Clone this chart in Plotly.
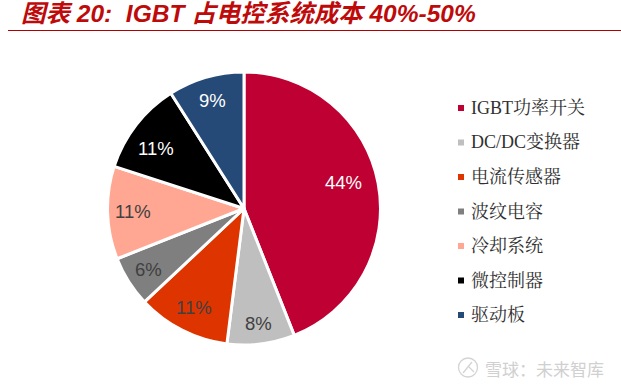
import math
import plotly.graph_objects as go

title = "图表 20:  IGBT 占电控系统成本 40%-50%"
labels = ["IGBT功率开关", "DC/DC变换器", "电流传感器", "波纹电容", "冷却系统", "微控制器", "驱动板"]
values = [44, 8, 11, 6, 11, 11, 9]
colors = ["#BE0032", "#BFBFBF", "#DE3500", "#7F7F7F", "#FFA793", "#000000", "#264A78"]
text_colors = ["#FFFFFF", "#404040", "#404040", "#404040", "#404040", "#FFFFFF", "#FFFFFF"]
label_radius = [0.75, 0.85, 0.81, 0.83, 0.815, 0.78, 0.825]
label_turn = [-3.7, 0, 0, 0, 0, -3.3, 0]
watermark = "雪球：未来智库"

W, H = 621, 385
cx, cy, r = 244, 208.5, 136.5

fig = go.Figure(go.Pie(
    labels=labels, values=values, sort=False, direction="clockwise", rotation=0,
    marker=dict(colors=colors, line=dict(color="white", width=3)),
    textinfo="none",
    hoverinfo="label+percent", showlegend=False,
    domain=dict(x=[(cx - r) / W, (cx + r) / W], y=[1 - (cy + r) / H, 1 - (cy - r) / H]),
))

px = lambda x: x / W
py = lambda y: 1 - y / H

shapes = [
    dict(type="line", xref="paper", yref="paper", x0=px(8), x1=1, y0=py(30.5), y1=py(30.5),
         line=dict(color="#B00000", width=1.2)),
    dict(type="circle", xref="paper", yref="paper", x0=px(458.5), x1=px(477.5), y0=py(377), y1=py(358),
         line=dict(color="#D4D4D4", width=1.3)),
    dict(type="line", xref="paper", yref="paper", x0=px(463), x1=px(472), y0=py(373), y1=py(362),
         line=dict(color="#D4D4D4", width=1.3)),
    dict(type="line", xref="paper", yref="paper", x0=px(468), x1=px(474), y0=py(366), y1=py(372),
         line=dict(color="#D4D4D4", width=1.3)),
]
annotations = [
    dict(text=f"<b><i>{title}</i></b>", x=px(19), y=py(13), xref="paper", yref="paper", xanchor="left",
         yanchor="middle", showarrow=False,
         font=dict(family="Liberation Sans, Noto Sans CJK SC", size=24.5, color="#BE0A0A")),
    dict(text=watermark, x=px(483), y=py(368), xref="paper", yref="paper", xanchor="left",
         yanchor="middle", showarrow=False,
         font=dict(family="Noto Sans CJK SC", size=17, color="#D0D0D0")),
]

total = sum(values)
cum = 0
for v, tc, f, turn in zip(values, text_colors, label_radius, label_turn):
    a = 2 * math.pi * (cum + v / 2) / total + math.radians(turn)
    cum += v
    annotations.append(dict(text=f"{v}%", x=px(cx + f * r * math.sin(a)), y=py(cy - f * r * math.cos(a)),
                            xref="paper", yref="paper", xanchor="center", yanchor="middle", showarrow=False,
                            font=dict(family="Liberation Sans", size=18.5, color=tc)))

for i, (lab, col) in enumerate(zip(labels, colors)):
    ly = 108 + i * 34.5
    shapes.append(dict(type="rect", xref="paper", yref="paper", x0=px(458), x1=px(464),
                       y0=py(ly + 3), y1=py(ly - 3), fillcolor=col, line=dict(width=0)))
    annotations.append(dict(text=lab, x=px(469), y=py(ly), xref="paper", yref="paper", xanchor="left",
                            yanchor="middle", showarrow=False,
                            font=dict(family="Liberation Serif, Noto Serif CJK SC, Noto Sans CJK SC", size=18, color="#303030")))

fig.update_layout(width=W, height=H, margin=dict(l=0, r=0, t=0, b=0), paper_bgcolor="white",
                  shapes=shapes, annotations=annotations)
fig.write_html("out.html", config=dict(displayModeBar=False),
               post_script="document.body.style.margin='0';document.documentElement.style.overflow='hidden';")
